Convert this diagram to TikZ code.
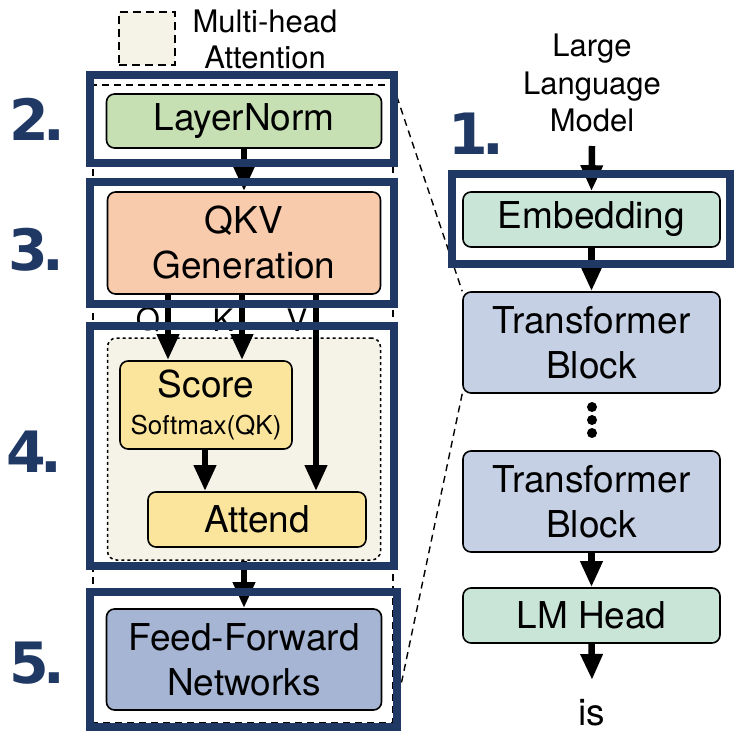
\documentclass[tikz,border=0pt]{standalone}
\usepackage{fontspec}
\setmainfont{TeX Gyre Heros}
\newfontfamily\numfont{DejaVu Sans}
\usetikzlibrary{arrows.meta}
\definecolor{navy}{HTML}{203864}
\definecolor{normgreen}{HTML}{C6E0B4}
\definecolor{qkvsalmon}{HTML}{F8CBAD}
\definecolor{attyellow}{HTML}{FBE59C}
\definecolor{ffnblue}{HTML}{A6B5D4}
\definecolor{embgreen}{HTML}{C9E5D8}
\definecolor{tbblue}{HTML}{C6D0E4}
\definecolor{mhabeige}{HTML}{F5F3E8}
\tikzset{
  blk/.style={draw=black, line width=1.6pt, rounded corners=8pt, inner sep=0pt,
    align=center, font=\fontsize{37}{45}\selectfont},
  frm/.style={draw=navy, line width=8pt},
  arr/.style={line width=6.5pt, -{Triangle[width=21pt,length=26pt]}},
  stepnum/.style={text=navy, inner sep=0pt, font=\numfont\bfseries\fontsize{57}{60}\selectfont},
  qkvlbl/.style={inner sep=0pt, font=\fontsize{31}{36}\selectfont},
  zoomline/.style={line width=1.4pt, dash pattern=on 7pt off 5pt}
}
\begin{document}
\begin{tikzpicture}[x=1pt,y=-1pt]
\useasboundingbox (0,0) rectangle (734,731);

% legend
\node[draw=black, line width=1.6pt, dash pattern=on 8pt off 5pt, fill=mhabeige,
  minimum width=56pt, minimum height=53pt, inner sep=0pt] (legbox) at (147,38.5) {};
\node[align=center, inner sep=0pt, font=\fontsize{31}{36}\selectfont] (legtxt) at (265,39.5) {Multi-head\\Attention};

% multi-head attention region
\node[draw=black, line width=1.5pt, dash pattern=on 3pt off 3pt, rounded corners=9pt,
  fill=mhabeige, minimum width=273pt, minimum height=222pt, inner sep=0pt] (mha) at (244,449) {};

% transformer block internals
\node[blk, fill=normgreen, minimum width=275pt, minimum height=54pt] (ln) at (244,121) {LayerNorm};
\node[blk, fill=qkvsalmon, minimum width=273pt, minimum height=102pt] (qkv) at (244,243) {QKV\\Generation};
\node[blk, fill=attyellow, minimum width=172pt, minimum height=88pt] (score) at (206,405)
  {Score\\[-8pt]{\fontsize{26}{30}\selectfont Softmax(QK)}};
\node[blk, fill=attyellow, minimum width=218pt, minimum height=55pt] (attend) at (257,519.5) {Attend};
\node[blk, fill=ffnblue, minimum width=275pt, minimum height=101pt] (ffn) at (244,659.5) {Feed-Forward\\Networks};

% model stack
\node[align=center, inner sep=0pt, font=\fontsize{31}{37.5}\selectfont] (llm) at (592,83) {Large\\Language\\Model};
\node[blk, fill=embgreen, minimum width=257pt, minimum height=55pt] (emb) at (591.5,219.5) {Embedding};
\node[blk, fill=tbblue, minimum width=257pt, minimum height=101pt] (tb1) at (591.5,342.5) {Transformer\\Block};
\node[blk, fill=tbblue, minimum width=257pt, minimum height=101pt] (tb2) at (591.5,501.5) {Transformer\\Block};
\node[blk, fill=embgreen, minimum width=257pt, minimum height=55pt] (lmh) at (591.5,615.5) {LM Head};
\node[inner sep=0pt, font=\fontsize{37}{40}\selectfont] (out) at (592,713) {is};
\coordinate (llmin) at (592,146);
\coordinate (lmout) at (592,680);
\foreach \yy in {407,420,433} \fill (592,\yy) circle (5pt);

% Q, K, V labels
\node[qkvlbl] (ql) at (148,320) {Q};
\node[qkvlbl] (kl) at (223,320) {K};
\node[qkvlbl] (vl) at (297,320) {V};

% arrows
\coordinate (qx) at (168,0);
\coordinate (kx) at (242,0);
\coordinate (vx) at (316,0);
\coordinate (sx) at (205,0);
\draw[arr] (ln.south) -- (qkv.north);
\draw[arr] (qkv.south -| qx) -- (score.north -| qx);
\draw[arr] (qkv.south -| kx) -- (score.north -| kx);
\draw[arr] (qkv.south -| vx) -- (attend.north -| vx);
\draw[arr] (score.south -| sx) -- (attend.north -| sx);
\draw[arr] (mha.south) -- (ffn.north);
\draw[arr] (llmin) -- (emb.north);
\draw[arr] (emb.south) -- (tb1.north);
\draw[arr] (tb2.south) -- (lmh.north);
\draw[arr] (lmh.south) -- (lmout);

% expanded transformer block outline and zoom lines
\coordinate (blkNW) at (93,85);
\coordinate (blkNE) at (393,85);
\coordinate (blkSE) at (393,723);
\coordinate (blkSW) at (93,723);
\draw[zoomline] (blkNW) rectangle (blkSE);
\draw[zoomline] (blkNE) -- (tb1.north west);
\draw[zoomline] (tb1.south west) -- (blkSE);

% highlighted stages
\draw[frm] (90,75) rectangle (394,163);
\draw[frm] (90,182) rectangle (394,304);
\draw[frm] (90,326) rectangle (394,566);
\draw[frm] (90,592) rectangle (397,727);
\draw[frm] (452,174) rectangle (730,264);

% stage numbers
\node[stepnum] (n1) at (476,134) {1\kern-0.1em.};
\node[stepnum] (n2) at (37.5,119) {2\kern-0.1em.};
\node[stepnum] (n3) at (36,250) {3\kern-0.1em.};
\node[stepnum] (n4) at (34,452) {4\kern-0.1em.};
\node[stepnum] (n5) at (37,663) {5\kern-0.1em.};
\end{tikzpicture}
\end{document}
